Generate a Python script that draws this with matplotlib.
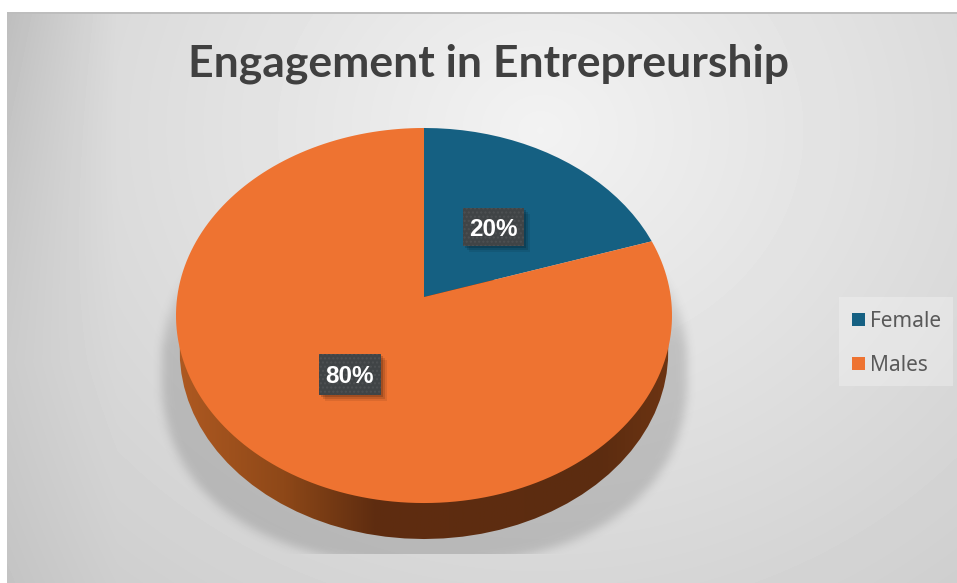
import numpy as np
import matplotlib
matplotlib.use("Agg")
import matplotlib.pyplot as plt
from matplotlib.patches import PathPatch, Rectangle
from matplotlib.path import Path
from matplotlib.transforms import Transform
from matplotlib.colors import LinearSegmentedColormap

title = "Engagement in Entrepreurship"
categories = ["Female", "Males"]
shares = [20, 80]
colors = ["#156082", "#EE7331"]

W, H = 957, 583
CX, CY = 424, 297   # pie apex in pixels
A, B, K = 246.8, 185.7, 0.0987  # perspective of the tilted disc


def flatten(path):
    # sample the bezier segments so the perspective keeps them smooth
    pts = []
    for curve, code in path.iter_bezier():
        if code == Path.CURVE4 or code == Path.CURVE3:
            pts.extend(curve(np.linspace(0, 1, 12)[1:]))
        else:
            pts.append(curve.control_points[-1])
    return np.array(pts)


class Tilt(Transform):
    """Maps the unit-circle pie onto the tilted disc (pixel coordinates)."""
    input_dims = output_dims = 2
    is_affine = False

    def __init__(self, dy=0.0, sx=1.0):
        super().__init__()
        self.dy = dy
        self.sx = sx

    def transform_non_affine(self, xy):
        xy = np.asarray(xy)
        w = 1 + K * xy[:, 1]
        return np.column_stack([CX + self.sx * A * xy[:, 0] / w,
                                CY + self.dy - B * xy[:, 1] / w])

    def transform_path_non_affine(self, path):
        return Path(self.transform_non_affine(flatten(path)), closed=False)


def blur(img, size, passes=3):
    kernel = np.ones(size) / size
    for _ in range(passes):
        img = np.apply_along_axis(lambda r: np.convolve(r, kernel, mode="same"), 0, img)
        img = np.apply_along_axis(lambda r: np.convolve(r, kernel, mode="same"), 1, img)
    return img


fig = plt.figure(figsize=(W / 100, H / 100), dpi=100, facecolor="white")
ax = fig.add_axes([0, 0, 1, 1])

wedges, _ = ax.pie(shares, colors=colors, startangle=90, counterclock=False, radius=1,
                   wedgeprops={"linewidth": 0})
ax.set_aspect("auto")
ax.set_xlim(0, W)
ax.set_ylim(H, 0)
ax.axis("off")

# chart area background
yy, xx = np.mgrid[0:H, 0:W]
r = np.sqrt(((xx - 540) / 640.0) ** 2 + ((yy - 130) / 560.0) ** 2)
bg = np.clip(0.95 - 0.135 * r, 0, 1)
bg -= 0.09 * np.clip(1 - (xx - 7) / 110.0, 0, 1) * np.clip(1 - (yy - 12) / 500.0, 0.3, 1)
bg[:12, :] = 1
bg[:, :7] = 1
bg[12:14, 7:] = 0.74
ax.imshow(bg, cmap="gray", vmin=0, vmax=1, extent=(0, W, H, 0), aspect="auto", zorder=0,
          interpolation="bilinear")

# soft shadow under the disc
e = (np.abs(xx - 424) / 263.0) ** 2.3 + (np.abs(yy - 372) / 192.0) ** 2.3
mask = (e < 1).astype(float)
mask = blur(mask, 9)
fade = np.clip((yy - 235) / 110.0, 0, 1)
alpha = mask * fade * 0.22
alpha[yy > 553] = 0
rgba = np.zeros((H, W, 4))
rgba[..., :3] = 0.28
rgba[..., 3] = alpha
ax.imshow(rgba, extent=(0, W, H, 0), aspect="auto", zorder=1)

# side wall of the disc
rim_cmap = LinearSegmentedColormap.from_list(
    "rim", [(0, "#B05A22"), (0.22, "#8E4818"), (0.40, "#5F2D10"), (0.85, "#5C2C10"), (1, "#6E3513")])
grad = np.linspace(0, 1, 512)[None, :]
rim = ax.imshow(grad, cmap=rim_cmap, extent=(172, 676, 560, 280), aspect="auto", zorder=2)
outline = Tilt(dy=36, sx=0.985).transform_path(Path.unit_circle())
rim.set_clip_path(PathPatch(outline, transform=ax.transData))

# top of the disc
tilt = Tilt() + ax.transData
for w in wedges:
    w.set_transform(tilt)
    w.set_zorder(3)
    w.set_clip_on(False)

# value labels
label_boxes = [(463, 208, 61, 38), (319, 354, 62, 41)]
for share, (x, y, bw, bh) in zip(shares, label_boxes):
    for off, a in [(7, 0.08), (5, 0.12), (3, 0.16)]:
        ax.add_patch(Rectangle((x + off - 1, y + off - 1), bw, bh, fc="black", ec="none",
                               alpha=a, zorder=4))
    ax.add_patch(Rectangle((x, y), bw, bh, fc="#404446", ec="#4E5153", hatch="....", lw=0, zorder=5))
    ax.text(x + bw / 2, y + bh / 2 + 2, f"{share}%", color="white", fontsize=17.5, fontweight="bold",
            family="Liberation Sans", ha="center", va="center", zorder=6)

ax.text(489, 64, title, fontsize=32, fontweight="bold", family="Lato", color="#404040",
        ha="center", va="center", zorder=6)

# legend
ax.add_patch(Rectangle((839, 297), 114, 89, fc="white", ec="none", alpha=0.28, zorder=4))
leg = ax.legend(wedges, categories, loc="upper left", bbox_to_anchor=(852 / W, 1 - 311 / H),
                bbox_transform=fig.transFigure, frameon=False, prop={"family": "Noto Sans", "size": 15},
                labelcolor="#595959", handlelength=0.62, handleheight=0.62, handletextpad=0.25,
                labelspacing=1.1, borderpad=0, borderaxespad=0)
leg.set_zorder(6)

fig.savefig("out.png", dpi=100)
